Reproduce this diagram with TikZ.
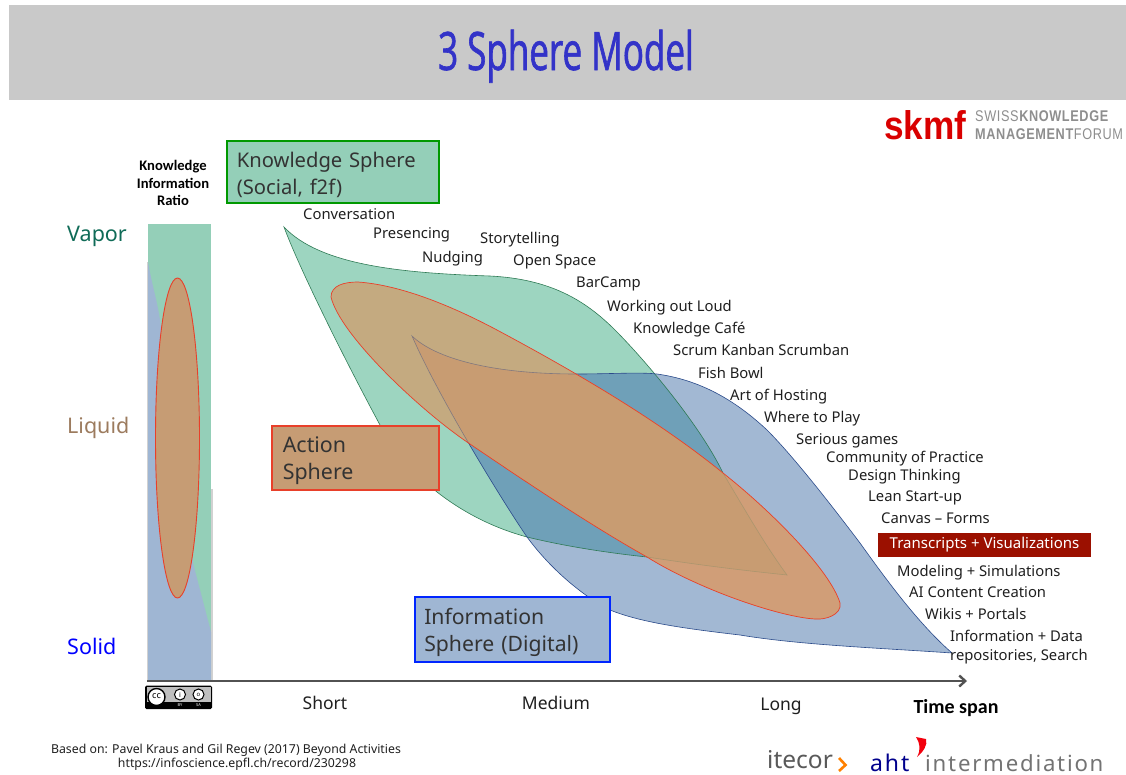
\documentclass[tikz,border=0pt]{standalone}
\usepackage{fontspec}
\setmainfont{Noto Sans}
\newfontfamily\titlefont[FakeStretch=0.66,FakeBold=1.2]{Open Sans}
\newfontfamily\ratiofont{Carlito}
\newfontfamily\logofont[FakeStretch=0.82,LetterSpace=4]{Liberation Sans}
\newfontfamily\skmffont[FakeStretch=0.88]{Liberation Sans}
\newfontfamily\spacedfont[LetterSpace=8]{Noto Sans}
\usepackage{xcolor}
\usetikzlibrary{arrows.meta}

\definecolor{band}{HTML}{C9C9C9}
\definecolor{titleblue}{HTML}{3333C8}
\definecolor{knowfill}{HTML}{9DD5C0}
\definecolor{knowbox}{HTML}{94CFB8}
\definecolor{knowline}{HTML}{2F7A55}
\definecolor{infofill}{HTML}{A2B8D3}
\definecolor{infobox}{HTML}{9FB6D3}
\definecolor{infoline}{HTML}{2A4A8A}
\definecolor{bothfill}{HTML}{6FA0B8}
\definecolor{actfill}{HTML}{C4AA80}
\definecolor{actinfo}{HTML}{D09E78}
\definecolor{actboth}{HTML}{C89C72}
\definecolor{actbox}{HTML}{C69C74}
\definecolor{actline}{HTML}{E8402A}
\definecolor{darkred}{HTML}{9B1000}
\definecolor{logogray}{HTML}{8E8E8E}
\definecolor{vaporcol}{HTML}{0F6B57}
\definecolor{liquidcol}{HTML}{9C7B5E}

\tikzset{
  method/.style={anchor=west,inner sep=0pt,text height=14pt,text depth=3pt,text=black!88,font=\fontsize{14.8}{17}\selectfont},
  spherebox/.style={anchor=north west,line width=1.6pt,inner sep=0pt,text=black!80,align=left},
  state/.style={anchor=west,inner sep=0pt,text height=21pt,text depth=5pt,font=\fontsize{21.5}{24}\selectfont},
  scalelabel/.style={inner sep=0pt,text height=18pt,text depth=4pt,text=black!88,font=\fontsize{17.5}{20}\selectfont},
}

\def\knowpath{(284,227) .. controls (320,265) and (400,273) .. (490,276)
  .. controls (550,279) and (585,300) .. (615,330)
  .. controls (645,360) and (700,425) .. (723,473)
  .. controls (745,510) and (765,545) .. (787,575)
  .. controls (720,568) and (680,562) .. (647,557)
  .. controls (600,552) and (560,545) .. (527,537)
  .. controls (490,527) and (460,510) .. (437,492)
  .. controls (410,470) and (395,450) .. (380,425)
  .. controls (345,360) and (300,270) .. (284,227) -- cycle}
\def\infopath{(412,336) .. controls (435,358) and (490,374) .. (577,374)
  .. controls (610,374) and (640,372) .. (657,374)
  .. controls (700,380) and (735,400) .. (767,430)
  .. controls (795,458) and (835,510) .. (860,543)
  .. controls (890,585) and (920,625) .. (952,653)
  .. controls (880,648) and (800,645) .. (740,635)
  .. controls (680,628) and (640,622) .. (610,610)
  .. controls (590,600) and (555,575) .. (527,537)
  .. controls (505,505) and (440,400) .. (412,336) -- cycle}
\def\actpath{(331,297) .. controls (331,285) and (345,282) .. (358,282)
  .. controls (400,285) and (450,305) .. (497,330)
  .. controls (600,385) and (670,430) .. (723,473)
  .. controls (770,510) and (830,570) .. (840,603)
  .. controls (842,615) and (825,620) .. (815,619)
  .. controls (780,617) and (700,590) .. (647,557)
  .. controls (590,525) and (520,478) .. (467,442)
  .. controls (420,410) and (340,335) .. (331,297) -- cycle}

\begin{document}
\begin{tikzpicture}[x=1pt,y=-1pt]
\useasboundingbox (0,0) rectangle (1126,774);
%\draw[gray,thin] (0,0) grid (1126,774);

% title
\fill[band] (9,5) rectangle (1126,100);
\node[anchor=base,inner sep=0pt,text=titleblue,font=\titlefont\fontsize{53}{56}\selectfont] (title) at (566,70) {3 Sphere Model};

% logo top right
\node[anchor=base west,inner sep=0pt,text=red!85!black,font=\skmffont\bfseries\fontsize{40}{40}\selectfont] (skmf) at (884,139) {skmf};
\node[anchor=base west,inner sep=0pt,text=logogray,font=\logofont\fontsize{15.5}{18}\selectfont] (swiss) at (975,121) {SWISS\textbf{KNOWLEDGE}};
\node[anchor=base west,inner sep=0pt,text=logogray,font=\logofont\fontsize{15.5}{18}\selectfont] (forum) at (975,139) {\textbf{MANAGEMENT}FORUM};

% left bar
\fill[black,opacity=0.18] (146.5,262) rectangle (148,681);
\fill[black,opacity=0.18] (211,489) rectangle (212.5,681);
\fill[knowbox] (148,224) rectangle (211,680);
\fill[infobox] (148,262) .. controls (152,285) and (157,300) .. (160,320) -- (193,563) -- (211,632) -- (211,680) -- (148,680) -- cycle;
\filldraw[fill=actbox,draw=actline,line width=0.9pt] (177.5,438) ellipse (22 and 160);

\node[inner sep=0pt,align=center,text=black,font=\ratiofont\bfseries\fontsize{14.6}{17.2}\selectfont] (ratio) at (173,183) {Knowledge\\Information\\Ratio};
\node[state,text=vaporcol] (vapor) at (67,233) {Vapor};
\node[state,text=liquidcol] (liquid) at (67,425) {Liquid};
\node[state,text=blue] (solid) at (67,646) {Solid};

% three spheres
\fill[knowfill] \knowpath;
\fill[infofill] \infopath;
\begin{scope}
\clip \knowpath;
\fill[bothfill] \infopath;
\end{scope}
\draw[knowline,line width=0.6pt] \knowpath;
\draw[infoline,line width=0.6pt] \infopath;
\fill[actfill] \actpath;
\begin{scope}
\clip \actpath;
\fill[actinfo] \infopath;
\clip \infopath;
\fill[actboth] \knowpath;
\end{scope}
\begin{scope}
\clip \actpath;
\draw[knowline,line width=0.6pt,opacity=0.2] \knowpath;
\draw[infoline,line width=0.6pt,opacity=0.45] \infopath;
\end{scope}
\draw[actline,line width=0.7pt] \actpath;

% sphere names
\node[spherebox,fill=knowbox,draw=green!60!black,minimum width=212,minimum height=62,text width=192,font=\fontsize{20.2}{26.5}\selectfont] (knowname) at (226,140) {\rule{0pt}{22pt}Knowledge Sphere\\(Social, f2f)};
\node[spherebox,fill=actbox,draw=actline,minimum width=167,minimum height=64,text width=145,font=\fontsize{21.4}{27.5}\selectfont] (actname) at (271,425) {\rule{0pt}{22pt}Action\\Sphere};
\node[spherebox,fill=infobox,draw=blue!85!cyan,minimum width=195,minimum height=65,text width=176,font=\fontsize{21.2}{27.5}\selectfont] (infoname) at (414,596) {\rule{0pt}{22pt}Information\\Sphere (Digital)};

% methods
\node[method] (conversation) at (303,214) {Conversation};
\node[method] (presencing) at (373,233) {Presencing};
\node[method] (nudging) at (422,257) {Nudging};
\node[method] (storytelling) at (480,238) {Storytelling};
\node[method] (openspace) at (513,260) {Open Space};
\node[method] (barcamp) at (576,282) {BarCamp};
\node[method] (wol) at (607,306) {Working out Loud};
\node[method] (cafe) at (633,328) {Knowledge Café};
\node[method] (scrum) at (673,350) {Scrum Kanban Scrumban};
\node[method] (fishbowl) at (698,373) {Fish Bowl};
\node[method] (hosting) at (730,395) {Art of Hosting};
\node[method] (whereplay) at (764,417) {Where to Play};
\node[method] (serious) at (796,439) {Serious games};
\node[method] (community) at (826,457) {Community of Practice};
\node[method] (design) at (848,475) {Design Thinking};
\node[method] (lean) at (868,496) {Lean Start-up};
\node[method] (canvas) at (881,518) {Canvas -- Forms};
\node[anchor=center,fill=darkred,text=white,inner sep=0pt,minimum width=213,minimum height=24,font=\fontsize{15}{17}\selectfont] (transcripts) at (984.5,545) {Transcripts + Visualizations};
\node[method] (modeling) at (897,571) {Modeling + Simulations};
\node[method] (aicontent) at (909,592) {AI Content Creation};
\node[method] (wikis) at (925,614) {Wikis + Portals};
\node[method] (infodata) at (950,636) {Information + Data};
\node[method] (repos) at (950,655) {repositories, Search};

% time axis
\coordinate (axisstart) at (147,681);
\coordinate (axisend) at (967,681);
\draw[line width=2.4pt,black!68,-{Straight Barb[length=6pt,width=11pt]}] (axisstart) -- (axisend);
\node[scalelabel] (short) at (325,702) {Short};
\node[scalelabel] (medium) at (556,702) {Medium};
\node[scalelabel] (long) at (781,703) {Long};
\node[inner sep=0pt,text=black,font=\ratiofont\bfseries\fontsize{20}{22}\selectfont] (timespan) at (956,708) {Time span};

% cc badge
\fill[black,rounded corners=1.5pt] (145,685.5) rectangle (212,709);
\fill[black!25] (146.5,687) rectangle (210.5,702);
\filldraw[fill=white,draw=black,line width=1.4pt] (156.5,697) circle (8.5);
\node[inner sep=0pt,font=\bfseries\fontsize{9}{9}\selectfont] (cc) at (156.5,696.5) {cc};
\filldraw[fill=white,draw=black,line width=1pt] (180,694.5) circle (5.5);
\node[inner sep=0pt,font=\bfseries\fontsize{7}{7}\selectfont] (by) at (180,694.5) {i};
\filldraw[fill=white,draw=black,line width=1pt] (198.5,694.5) circle (5.5);
\node[inner sep=0pt,font=\bfseries\fontsize{6}{6}\selectfont] (sa) at (198.5,694.5) {o};
\node[inner sep=0pt,text=white,font=\fontsize{4}{4}\selectfont] (bytext) at (180,705.5) {BY};
\node[inner sep=0pt,text=white,font=\fontsize{4}{4}\selectfont] (satext) at (198.5,705.5) {SA};

% source
\node[inner sep=0pt,text=black!88,font=\fontsize{12.3}{14}\selectfont] (source) at (226,750) {Based on: Pavel Kraus and Gil Regev (2017) Beyond Activities};
\node[inner sep=0pt,text=black!88,font=\fontsize{12.3}{14}\selectfont] (url) at (237,764) {https://infoscience.epfl.ch/record/230298};

% logos bottom right
\node[anchor=base west,inner sep=0pt,text depth=0pt,text=black!65,font=\fontsize{24.5}{26}\selectfont] (itecor) at (767,768) {itecor};
\coordinate (chevtop) at (839,758);
\coordinate (chevtip) at (845.5,765);
\coordinate (chevend) at (839,771);
\draw[orange,line width=2.6pt] (chevtop) -- (chevtip) -- (chevend);
\node[anchor=base west,inner sep=0pt,text depth=0pt,text=blue!55!black,font=\spacedfont\fontsize{23}{24}\selectfont] (aht) at (870,771) {aht};
\node[anchor=base west,inner sep=0pt,text depth=0pt,text=black!55,font=\spacedfont\fontsize{22.2}{24}\selectfont] (intermediation) at (925,771) {intermediation};
\fill[red!80!purple] (917,757) .. controls (923,752) and (928,745) .. (926,739) -- (916,737) .. controls (920,743) and (921,750) .. (917,757) -- cycle;

\end{tikzpicture}
\end{document}
